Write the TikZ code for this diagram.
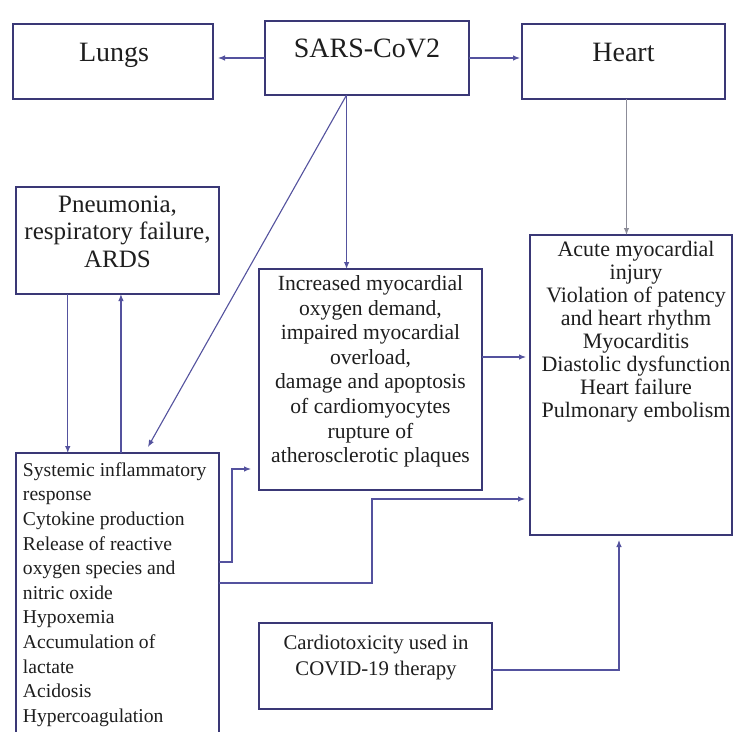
\documentclass[tikz,border=0pt]{standalone}
\usepackage{fontspec}
\setmainfont{Liberation Serif}
\usetikzlibrary{arrows.meta,calc}
\definecolor{boxc}{RGB}{58,56,118}
\definecolor{arrc}{RGB}{84,82,158}
\definecolor{greyc}{RGB}{140,140,152}
\definecolor{txtc}{RGB}{30,30,30}
\begin{document}
\begin{tikzpicture}[x=1pt,y=-1pt,
  box/.style={draw=boxc,line width=1.5pt,inner sep=0pt,outer sep=0pt},
  lbl/.style={inner sep=0pt,outer sep=0pt,text=txtc,anchor=north},
  arr/.style={draw=arrc,line width=1.1pt,-{Latex[length=7pt,width=5.5pt]}},
  arrg/.style={arr,draw=greyc},
]
\useasboundingbox[fill=white] (0,0) rectangle (733,731);
% boxes
\node[box,minimum width=200pt,minimum height=75pt] (lungs) at (113,61.5) {};
\node[box,minimum width=204pt,minimum height=74pt] (sars) at (367,58) {};
\node[box,minimum width=203pt,minimum height=75pt] (heart) at (623.5,61.5) {};
\node[box,minimum width=203pt,minimum height=107pt] (pneu) at (117.5,240.5) {};
\node[box,minimum width=203pt,minimum height=287pt] (sys) at (117.5,596.5) {};
\node[box,minimum width=223pt,minimum height=221pt] (inc) at (370.5,379.5) {};
\node[box,minimum width=202pt,minimum height=300pt] (acute) at (631,385) {};
\node[box,minimum width=233pt,minimum height=86pt] (cardio) at (375.5,666) {};
% texts
\node[lbl,font={\fontsize{28}{33}\selectfont}] (tlungs) at (114,43) {Lungs};
\node[lbl,font={\fontsize{28}{33}\selectfont}] (tsars) at (367,38.5) {SARS-CoV2};
\node[lbl,font={\fontsize{28}{33}\selectfont}] (theart) at (623.5,43) {Heart};
\node[lbl,align=center,font={\fontsize{25}{27.5}\selectfont}] (tpneu) at (117.5,195.5)
  {Pneumonia,\\respiratory failure,\\ARDS};
\node[lbl,align=center,font={\fontsize{21.6}{24.6}\selectfont}] (tinc) at (370.5,275.5)
  {Increased myocardial\\oxygen demand,\\impaired myocardial\\overload,\\damage and apoptosis\\of cardiomyocytes\\rupture of\\atherosclerotic plaques};
\node[lbl,align=center,font={\fontsize{22}{23}\selectfont}] (tacute) at (636,241)
  {Acute myocardial\\injury\\Violation of patency\\and heart rhythm\\Myocarditis\\Diastolic dysfunction\\Heart failure\\Pulmonary embolism};
\node[lbl,anchor=north west,align=left,font={\fontsize{19.6}{24.6}\selectfont}] (tsys) at (23,462.5)
  {Systemic inflammatory\\response\\Cytokine production\\Release of reactive\\oxygen species and\\nitric oxide\\Hypoxemia\\Accumulation of\\lactate\\Acidosis\\Hypercoagulation};
\node[lbl,align=center,font={\fontsize{20.8}{26}\selectfont}] (tcardio) at (376,635.5)
  {Cardiotoxicity used in\\COVID-19 therapy};
% connectors
\coordinate (sb) at ($(sars.south west)!0.4!(sars.south east)$);
\coordinate (pd) at ($(pneu.south west)!0.255!(pneu.south east)$);
\coordinate (su) at ($(sys.north west)!0.517!(sys.north east)$);
\coordinate (hs) at ($(heart.south)+(3,0)$);
\draw[arr] (sars.west) -- ([xshift=5pt]sars.west -| lungs.east);
\draw[arr] (sars.east) -- ([xshift=-2pt]sars.east -| heart.west);
\draw[arr] (sb) -- (sb |- inc.north);
\draw[arr] (sb) -- ($(sys.north west)!0.65!(sys.north east)+(0,-6)$);
\draw[arrg] (hs) -- (hs |- acute.north);
\draw[arr] (pd) -- (pd |- sys.north);
\draw[arr] (su) -- (su |- pneu.south);
\draw[arr] ($(sys.north east)+(0,109)$) -- ++(13,0) |- ($(inc.west)+(-8,89.5)$);
\draw[arr] ($(sys.north east)+(0,130)$) -- ++(153,0) |- ($(acute.west)+(-5,114)$);
\draw[arr] ($(inc.east)+(0,-22.5)$) -- ($(acute.west)+(-4,-28)$);
\draw[arr] ($(cardio.east)+(0,4)$) -| ($(acute.south)+(-12,5)$);
\end{tikzpicture}
\end{document}
